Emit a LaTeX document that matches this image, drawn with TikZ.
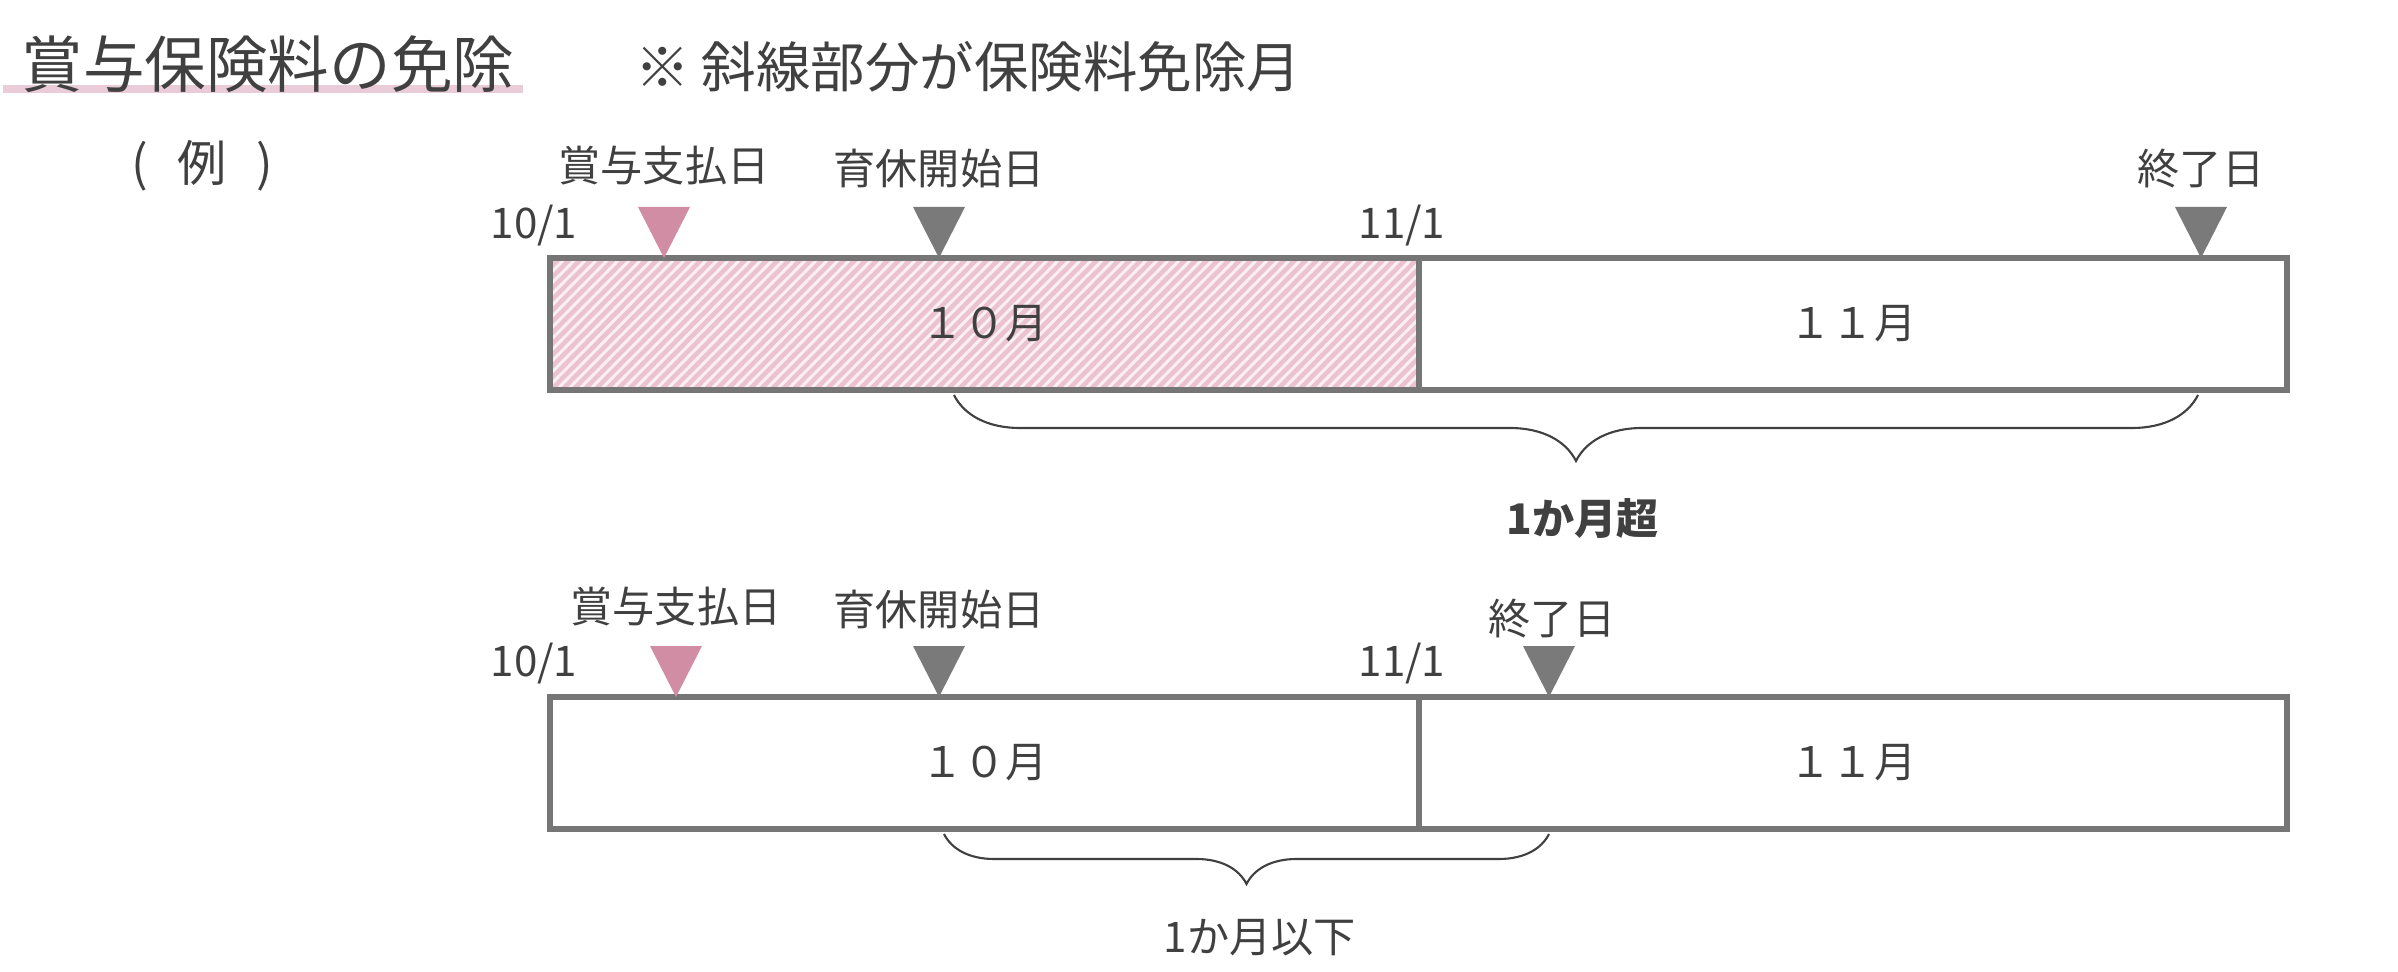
\documentclass[tikz,border=0pt]{standalone}
\usepackage{fontspec}
\setmainfont{Noto Sans CJK JP}
\usetikzlibrary{decorations.pathreplacing}
\definecolor{txt}{HTML}{404040}
\definecolor{barline}{HTML}{767676}
\definecolor{pinkt}{HTML}{D08DA3}
\definecolor{grayt}{HTML}{7A7A7A}
\definecolor{hatchbg}{HTML}{FBEFF3}
\definecolor{hatchln}{HTML}{EBC3D0}
\definecolor{uline}{HTML}{E9CCD7}
\tikzset{
  lbl/.style={text=txt,font=\fontsize{12}{14}\selectfont,inner sep=0pt},
  cell/.style={draw=barline,line width=1.6pt,minimum height=132\pxu,inner sep=0pt,text=txt,font=\fontsize{12}{14}\selectfont},
  brc/.style={draw=txt,line width=0.6pt,decorate,decoration={brace,mirror}}
}
\newlength{\pxu}\setlength{\pxu}{0.1mm}
\begin{document}
\begin{tikzpicture}[x=0.1mm,y=-0.1mm]
\useasboundingbox (0,0) rectangle (2398,972);
% title
\fill[uline] (3,85) rectangle (523,93);
\node[text=txt,font=\fontsize{17.5}{20}\selectfont,inner sep=0pt] (title) at (268,64) {賞与保険料の免除};
\node[text=txt,font=\fontsize{15.5}{18}\selectfont,inner sep=0pt] (note) at (968,67) {※ 斜線部分が保険料免除月};
\node[lbl,font=\fontsize{14}{16}\selectfont] (rei) at (202,166) {(\hspace{0.6em}例\hspace{0.6em})};
% top bar
\begin{scope}
\clip (550,258) rectangle (1419,390);
\fill[hatchbg] (550,258) rectangle (1419,390);
\foreach \i in {0,...,95} {\draw[hatchln,line width=1.3pt] (420+\i*11,400) -- (420+\i*11+150,248);}
\end{scope}
\node[cell,minimum width=869\pxu] (a10) at (984.5,324) {１０月};
\node[cell,minimum width=868\pxu] (a11) at (1853,324) {１１月};
\node[lbl] (a101) at (534,226) {10/1};
\node[lbl] (a111) at (1402,226) {11/1};
\fill[pinkt] (638,207) -- (690,207) -- (664,258) -- cycle;
\fill[grayt] (913,207) -- (965,207) -- (939,258) -- cycle;
\fill[grayt] (2175,207) -- (2227,207) -- (2201,258) -- cycle;
\node[lbl] (apayl) at (664,166) {賞与支払日};
\node[lbl] (astartl) at (939,169) {育休開始日};
\node[lbl] (aendl) at (2201,169) {終了日};
\coordinate (ab1) at (954,395);
\coordinate (ab2) at (2198,395);
\draw[brc,decoration={amplitude=66\pxu,aspect=0.5}] (ab1) -- (ab2);
\node[lbl,font=\bfseries\fontsize{12}{14}\selectfont] (over) at (1583,518) {1か月超};
% bottom bar
\node[cell,minimum width=869\pxu] (b10) at (984.5,763) {１０月};
\node[cell,minimum width=868\pxu] (b11) at (1853,763) {１１月};
\node[lbl] (b101) at (534,664) {10/1};
\node[lbl] (b111) at (1402,664) {11/1};
\fill[pinkt] (650,646) -- (702,646) -- (676,697) -- cycle;
\fill[grayt] (913,646) -- (965,646) -- (939,697) -- cycle;
\fill[grayt] (1523,646) -- (1575,646) -- (1549,697) -- cycle;
\node[lbl] (bpayl) at (676,607) {賞与支払日};
\node[lbl] (bstartl) at (939,610) {育休開始日};
\node[lbl] (bendl) at (1552,619) {終了日};
\coordinate (bb1) at (944,834);
\coordinate (bb2) at (1549,834);
\draw[brc,decoration={amplitude=50\pxu,aspect=0.5}] (bb1) -- (bb2);
\node[lbl] (under) at (1260,938) {1か月以下};
\end{tikzpicture}
\end{document}
